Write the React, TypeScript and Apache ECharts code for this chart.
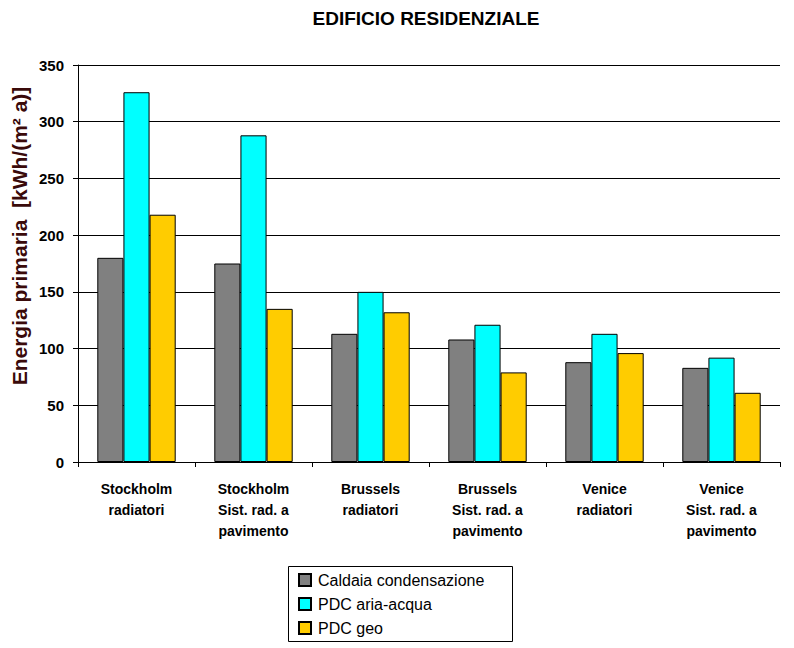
import React, { useEffect, useRef } from "react";
import * as echarts from "echarts";

const categories = [
  "Stockholm\nradiatori",
  "Stockholm\nSist. rad. a\npavimento",
  "Brussels\nradiatori",
  "Brussels\nSist. rad. a\npavimento",
  "Venice\nradiatori",
  "Venice\nSist. rad. a\npavimento",
];
const caldaia = [180, 175, 113, 108, 88, 83];
const pdcAria = [326, 288, 150, 121, 113, 92];
const pdcGeo = [218, 135, 132, 79, 96, 61];
const seriesNames = ["Caldaia condensazione", "PDC aria-acqua", "PDC geo"];
const seriesColors = ["#808080", "#00FFFF", "#FFCC00"];

const FONT = "Arial, 'Liberation Sans', sans-serif";

export default function App() {
  const ref = useRef<HTMLDivElement>(null);
  useEffect(() => {
    if (!ref.current) return;
    const chart = echarts.init(ref.current, undefined, { renderer: "svg" });
    const datasets = [caldaia, pdcAria, pdcGeo];
    chart.setOption({
      animation: false,
      backgroundColor: "#ffffff",
      title: {
        text: "EDIFICIO RESIDENZIALE",
        left: 421,
        top: 4,
        textAlign: "center",
        textStyle: { fontFamily: FONT, fontSize: 19, fontWeight: "bold", color: "#000" },
      },
      graphic: [
        {
          type: "text",
          x: 9,
          y: 236,
          rotation: Math.PI / 2,
          style: {
            text: "Energia primaria  [kWh/(m² a)]",
            fontFamily: FONT,
            fontSize: 21,
            fontWeight: "bold",
            fill: "#3a0a0a",
            align: "center",
            verticalAlign: "top",
          },
        },
        {
          type: "rect",
          shape: { x: 288.5, y: 566.5, width: 224, height: 75 },
          style: { fill: "none", stroke: "#000", lineWidth: 1 },
          z: 10,
        },
      ],
      legend: {
        orient: "vertical",
        left: 293,
        top: 569,
        padding: [3, 5, 3, 5],
        itemGap: 8,
        itemWidth: 12,
        itemHeight: 12,
        textStyle: { fontFamily: FONT, fontSize: 16, color: "#000", padding: [0, 0, 0, 2] },
        data: seriesNames.map((n) => ({ name: n, icon: "rect" })),
      },
      grid: { left: 78, right: 14, top: 65, bottom: 186, containLabel: false },
      xAxis: {
        type: "category",
        data: categories,
        axisLine: { lineStyle: { color: "#000", width: 1 } },
        axisTick: { show: true, length: 5, inside: false, lineStyle: { color: "#000" } },
        axisLabel: {
          fontFamily: FONT,
          fontSize: 14,
          fontWeight: "bold",
          color: "#000",
          margin: 16,
          lineHeight: 21,
          interval: 0,
        },
      },
      yAxis: {
        type: "value",
        min: 0,
        max: 350,
        interval: 50,
        axisLine: { show: true, lineStyle: { color: "#000", width: 1 } },
        axisTick: { show: true, length: 5, lineStyle: { color: "#000" } },
        axisLabel: {
          fontFamily: FONT,
          fontSize: 15,
          fontWeight: "bold",
          color: "#000",
          margin: 14,
        },
        splitLine: { show: true, lineStyle: { color: "#000", width: 1 } },
      },
      series: datasets.map((d, i) => ({
        name: seriesNames[i],
        type: "bar",
        data: d,
        barGap: "0%",
        barCategoryGap: "33%",
        itemStyle: { color: seriesColors[i], borderColor: "#000", borderWidth: 1 },
      })),
    });
    return () => chart.dispose();
  }, []);
  return (
    <div
      ref={ref}
      style={{ position: "fixed", left: 0, top: 0, width: 794, height: 648, background: "#fff" }}
    />
  );
}
